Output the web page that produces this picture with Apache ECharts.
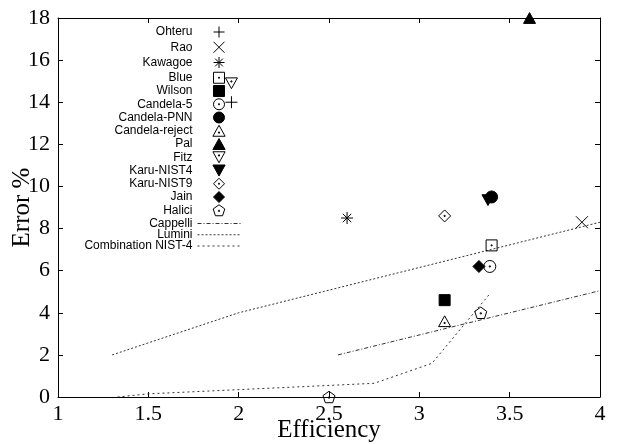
<!DOCTYPE html>
<html>
<head>
<meta charset="utf-8">
<script src="https://cdn.jsdelivr.net/npm/echarts@6/dist/echarts.min.js"></script>
<style>html,body{margin:0;padding:0;background:#fff;}#c{width:621px;height:444px;}</style>
</head>
<body>
<div id="c"></div>
<script>
// ---- data (Efficiency, Error %) ----
const ohteru = [[1.96, 14.0]];
const rao = [[3.9, 8.3]];
const kawagoe = [[2.6, 8.5]];
const blue = [[3.4, 7.2]];
const wilson = [[3.14, 4.6]];
const candela5 = [[3.39, 6.2]];
const candelaPNN = [[3.4, 9.5]];
const candelaReject = [[3.14, 3.6]];
const pal = [[3.61, 18]];
const fitz = [[1.96, 14.9]];
const karuNIST4 = [[3.38, 9.35]];
const karuNIST9 = [[3.14, 8.6]];
const jain = [[3.33, 6.2]];
const halici = [[3.34, 4.0], [2.5, 0]];
const cappelli = [[2.55, 2.0], [4.0, 5.05]];
const lumini = [[1.3, 2.0], [2.0, 4.0], [4.0, 8.3]];
const combinationNIST4 = [[1.33, 0], [1.5, 0.15], [2.75, 0.65], [3.07, 1.6], [3.39, 4.9]];

const xTicks = { min: 1, max: 4, interval: 0.5 };
const yTicks = { min: 0, max: 18, interval: 2 };

// ---- symbols ----
const DOT = (cx, cy) => ` M${cx-0.45} ${cy-0.45} L${cx+0.45} ${cy-0.45} L${cx+0.45} ${cy+0.45} L${cx-0.45} ${cy+0.45} Z`;
const S = {
  plus: 'path://M5 0 L5 10 M0 5 L10 5',
  cross: 'path://M0 0 L10 10 M10 0 L0 10',
  star: 'path://M5 0 L5 10 M0 5 L10 5 M1.5 1.5 L8.5 8.5 M8.5 1.5 L1.5 8.5',
  sqOpen: 'path://M0 0 L10 0 L10 10 L0 10 Z' + DOT(5, 5),
  sqFill: 'path://M0 0 L10 0 L10 10 L0 10 Z',
  circOpen: 'path://M0 5 A5 5 0 1 1 10 5 A5 5 0 1 1 0 5 Z' + DOT(5, 5),
  circFill: 'path://M0 5 A5 5 0 1 1 10 5 A5 5 0 1 1 0 5 Z',
  triUpOpen: 'path://M5 0 L10 9 L0 9 Z' + DOT(5, 6),
  triUpFill: 'path://M5 0 L10 9 L0 9 Z',
  triDnOpen: 'path://M0 0 L10 0 L5 9 Z' + DOT(5, 3),
  triDnFill: 'path://M0 0 L10 0 L5 9 Z',
  diaOpen: 'path://M5 0 L10 5 L5 10 L0 5 Z' + DOT(5, 5),
  diaFill: 'path://M5 0 L10 5 L5 10 L0 5 Z',
  pentOpen: 'path://M5 0 L9.755 3.455 L7.939 9.045 L2.061 9.045 L0.245 3.455 Z' + DOT(5, 5)
};

function sc(name, data, symbol, filled, size) {
  return {
    name, type: 'scatter', data, symbol, symbolSize: size || 12,
    symbolKeepAspect: true,
    itemStyle: { color: filled ? '#000' : 'none', borderColor: '#000', borderWidth: 1, opacity: 1 },
    emphasis: { disabled: true }, z: 3
  };
}
function ln(name, data, dash) {
  return {
    name, type: 'line', data, symbol: 'none', showSymbol: false,
    lineStyle: { color: '#333', width: 1, type: dash },
    itemStyle: { color: '#333' },
    emphasis: { disabled: true }, z: 2
  };
}

const series = [
  sc('Ohteru', ohteru, S.plus, false),
  sc('Rao', rao, S.cross, false),
  sc('Kawagoe', kawagoe, S.star, false),
  sc('Blue', blue, S.sqOpen, false, 11),
  sc('Wilson', wilson, S.sqFill, true, 11),
  sc('Candela-5', candela5, S.circOpen, false),
  sc('Candela-PNN', candelaPNN, S.circFill, true),
  sc('Candela-reject', candelaReject, S.triUpOpen, false),
  sc('Pal', pal, S.triUpFill, true),
  sc('Fitz', fitz, S.triDnOpen, false),
  sc('Karu-NIST4', karuNIST4, S.triDnFill, true),
  sc('Karu-NIST9', karuNIST9, S.diaOpen, false),
  sc('Jain', jain, S.diaFill, true),
  sc('Halici', halici, S.pentOpen, false),
  ln('Cappelli', cappelli, [4, 2, 1, 2]),
  ln('Lumini', lumini, [2, 2]),
  ln('Combination NIST-4', combinationNIST4, [2, 3])
];

const axisLine = { show: true, onZero: false, lineStyle: { color: '#000', width: 1 } };
const tickIn = { show: true, inside: true, length: 5, lineStyle: { color: '#000', width: 1 } };
const lblFont = { fontFamily: 'Liberation Serif', fontSize: 22, color: '#000' };

const chart = echarts.init(document.getElementById('c'), null, { renderer: 'canvas' });
chart.setOption({
  animation: false,
  backgroundColor: '#fff',
  grid: { left: 58, right: 21, top: 18, bottom: 47, containLabel: false, outerBoundsMode: 'none' },
  legend: {
    orient: 'vertical', align: 'right', right: 380, top: 24,
    itemWidth: 43, itemHeight: 11, itemGap: -0.75, padding: 0,
    symbolKeepAspect: true, selectedMode: false,
    itemStyle: { borderWidth: 1 },
    lineStyle: { width: 1 },
    textStyle: { fontFamily: 'Liberation Sans', fontSize: 12, lineHeight: 12, color: '#000' },
    data: series.map(s => s.type === 'line'
      ? { name: s.name, itemStyle: { opacity: 0 } }
      : { name: s.name })
  },
  xAxis: [
    { type: 'value', position: 'bottom', min: xTicks.min, max: xTicks.max, interval: xTicks.interval,
      axisLine, axisTick: tickIn, splitLine: { show: false },
      axisLabel: Object.assign({ margin: 6 }, lblFont),
      name: 'Efficiency', nameLocation: 'middle', nameGap: 21, nameMoveOverlap: false,
      nameTextStyle: { fontFamily: 'Liberation Serif', fontSize: 25, color: '#000' } },
    { type: 'value', position: 'top', min: xTicks.min, max: xTicks.max, interval: xTicks.interval,
      axisLine, axisTick: tickIn, splitLine: { show: false }, axisLabel: { show: false } }
  ],
  yAxis: [
    { type: 'value', position: 'left', min: yTicks.min, max: yTicks.max, interval: yTicks.interval,
      axisLine, axisTick: tickIn, splitLine: { show: false },
      axisLabel: Object.assign({ margin: 8 }, lblFont),
      name: 'Error %', nameLocation: 'middle', nameGap: 23, nameMoveOverlap: false,
      nameTextStyle: { fontFamily: 'Liberation Serif', fontSize: 25, color: '#000' } },
    { type: 'value', position: 'right', min: yTicks.min, max: yTicks.max, interval: yTicks.interval,
      axisLine, axisTick: tickIn, splitLine: { show: false }, axisLabel: { show: false } }
  ],
  series
});
</script>
</body>
</html>
